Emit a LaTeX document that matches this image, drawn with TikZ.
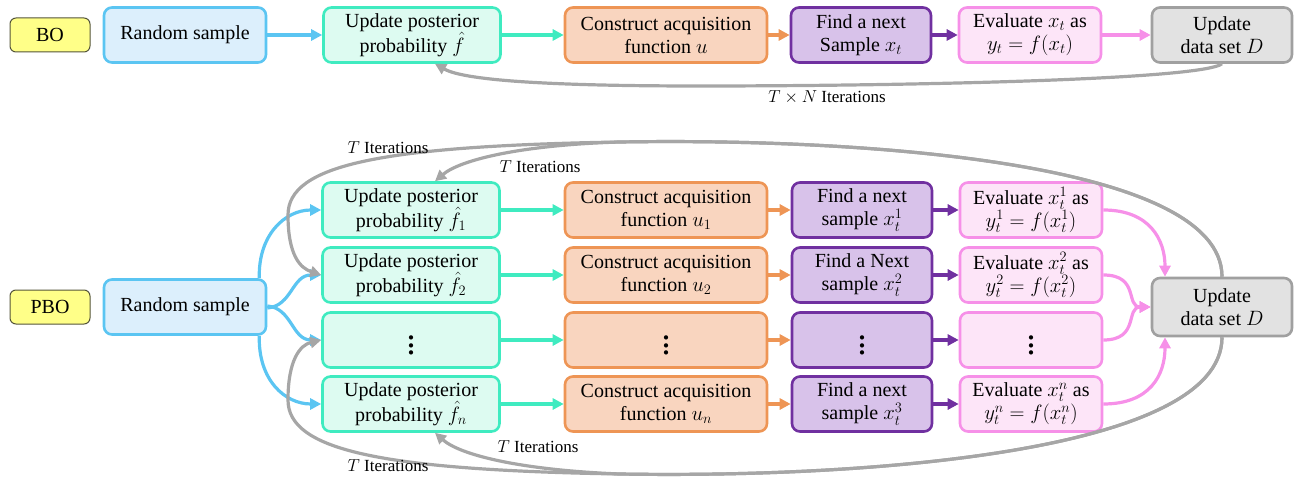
\documentclass[tikz,border=0pt]{standalone}
\usepackage{fontspec}
\setmainfont{Liberation Serif}
\usetikzlibrary{arrows.meta,positioning,calc}
\definecolor{lblF}{HTML}{FFFF88}\definecolor{lblD}{HTML}{55553A}
\definecolor{rsF}{HTML}{DCEFFC}\definecolor{rsD}{HTML}{5BC5F2}
\definecolor{upF}{HTML}{DDFBF1}\definecolor{upD}{HTML}{3FEBC0}
\definecolor{coF}{HTML}{F9D5BF}\definecolor{coD}{HTML}{EE9555}
\definecolor{fiF}{HTML}{D8C2EA}\definecolor{fiD}{HTML}{7030A0}
\definecolor{evF}{HTML}{FDE5F8}\definecolor{evD}{HTML}{F690E8}
\definecolor{udF}{HTML}{E2E2E2}\definecolor{udD}{HTML}{A0A0A0}
\definecolor{loopC}{HTML}{A6A6A6}
\newcommand{\myvd}{\scalebox{1.8}{$\vdots$}}
\tikzset{
  box/.style={rounded corners=8pt, line width=2.6pt, minimum height=55pt, align=center, inner sep=2pt,
    font=\fontsize{20}{23}\selectfont},
  lbl/.style={rounded corners=6pt, line width=1pt, draw=lblD, fill=lblF, minimum width=80pt, minimum height=34pt,
    font=\fontsize{20}{23}\selectfont},
  rsbox/.style={box, draw=rsD, fill=rsF, minimum width=162pt},
  upbox/.style={box, draw=upD, fill=upF, minimum width=177pt},
  cobox/.style={box, draw=coD, fill=coF, minimum width=202pt},
  fibox/.style={box, draw=fiD, fill=fiF, minimum width=140pt},
  evbox/.style={box, draw=evD, fill=evF, minimum width=142pt},
  udbox/.style={box, draw=udD, fill=udF, minimum width=140pt},
  conn/.style={line width=3.2pt, -{Triangle[length=11pt,width=11pt]}},
  loopline/.style={conn, draw=loopC, color=loopC},
  itl/.style={font=\fontsize{17}{19}\selectfont, inner sep=1pt},
}
\begin{document}
\begin{tikzpicture}[x=1pt,y=-1pt]
\useasboundingbox (0,0) rectangle (1300,481);
% ---------- BO ----------
\node[lbl] (bo) at (50,35) {BO};
\node[rsbox] (rsA) at (185,35) {Random sample};
\node[upbox] (upA) at (412,35) {Update posterior\\probability $\hat f$};
\node[cobox] (coA) at (666,35) {Construct acquisition\\function $u$};
\node[fibox] (fiA) at (861,35) {Find a next\\Sample $x_t$};
\node[evbox] (evA) at (1030,35) {Evaluate $x_t$ as\\$y_t=f(x_t)$};
\node[udbox] (udA) at (1222,35) {Update\\data set $D$};
\draw[conn, rsD] (rsA) -- (upA);
\draw[conn, upD] (upA) -- (coA);
\draw[conn, coD] (coA) -- (fiA);
\draw[conn, fiD] (fiA) -- (evA);
\draw[conn, evD] (evA) -- (udA);
\draw[loopline] (udA.south) .. controls (1200,80) and (900,86) .. (700,86)
  .. controls (520,86) and (460,78) .. ([xshift=23pt]upA.south);
\node[itl] (tnA) at (827,97) {$T\times N$ Iterations};
% ---------- PBO ----------
\node[lbl] (pbo) at (50,307) {PBO};
\node[rsbox] (rsB) at (185,307) {Random sample};
\node[udbox, minimum height=58pt] (udB) at (1222,307) {Update\\data set $D$};
\foreach \i/\yy/\pA/\pB/\pC/\pD in {
  1/210/{Update posterior\\probability $\hat f_1$}/{Construct acquisition\\function $u_1$}/{Find a next\\sample $x_t^1$}/{Evaluate $x_t^1$ as\\$y_t^1=f(x_t^1)$},
  2/275/{Update posterior\\probability $\hat f_2$}/{Construct acquisition\\function $u_2$}/{Find a Next\\sample $x_t^2$}/{Evaluate $x_t^2$ as\\$y_t^2=f(x_t^2)$},
  3/340/{\myvd}/{\myvd}/{\myvd}/{\myvd},
  4/404/{Update posterior\\probability $\hat f_n$}/{Construct acquisition\\function $u_n$}/{Find a next\\sample $x_t^3$}/{Evaluate $x_t^n$ as\\$y_t^n=f(x_t^n)$}}{
  \node[upbox] (up\i) at (411,\yy) {\pA};
  \node[cobox] (co\i) at (666,\yy) {\pB};
  \node[fibox] (fi\i) at (862,\yy) {\pC};
  \node[evbox] (ev\i) at (1031,\yy) {\pD};
  \draw[conn, upD] (up\i) -- (co\i);
  \draw[conn, coD] (co\i) -- (fi\i);
  \draw[conn, fiD] (fi\i) -- (ev\i);
}
% blue fan-out
\draw[conn, rsD] ([xshift=-8pt]rsB.north east) .. controls (258,235) and (285,210) .. (up1.west);
\draw[conn, rsD] ([yshift=-1pt]rsB.east) .. controls (292,306) and (292,275) .. (up2.west);
\draw[conn, rsD] ([yshift=1pt]rsB.east) .. controls (292,308) and (292,340) .. (up3.west);
\draw[conn, rsD] ([xshift=-8pt]rsB.south east) .. controls (258,380) and (285,404) .. (up4.west);
% pink fan-in
\draw[conn, evD] (ev1.east) .. controls (1150,210) and (1165,240) .. ([xshift=-57pt]udB.north);
\draw[conn, evD] (ev2.east) .. controls (1140,275) and (1125,307) .. (udB.west);
\draw[conn, evD] (ev3.east) .. controls (1140,340) and (1125,307) .. (udB.west);
\draw[conn, evD] (ev4.east) .. controls (1150,404) and (1165,375) .. ([xshift=-57pt]udB.south);
% gray loops (top)
\draw[loopline] (udB.north) .. controls (1222,160) and (850,138) .. (620,142)
  .. controls (520,145) and (460,160) .. ([xshift=24pt]up1.north);
\draw[loopline] (udB.north) .. controls (1222,160) and (850,138) .. (620,142)
  .. controls (380,146) and (288,165) .. (288,215) .. controls (288,255) and (300,268) .. (up2.west);
% gray loops (bottom)
\draw[loopline] (udB.south) .. controls (1222,455) and (850,478) .. (620,474)
  .. controls (520,470) and (460,455) .. ([xshift=24pt]up4.south);
\draw[loopline] (udB.south) .. controls (1222,455) and (850,478) .. (620,474)
  .. controls (380,470) and (288,450) .. (288,400) .. controls (288,360) and (300,345) .. (up3.west);
\node[itl] (t1) at (388,148) {$T$ Iterations};
\node[itl] (t2) at (540,167) {$T$ Iterations};
\node[itl] (t3) at (538,447) {$T$ Iterations};
\node[itl] (t4) at (388,466) {$T$ Iterations};
\end{tikzpicture}
\end{document}
